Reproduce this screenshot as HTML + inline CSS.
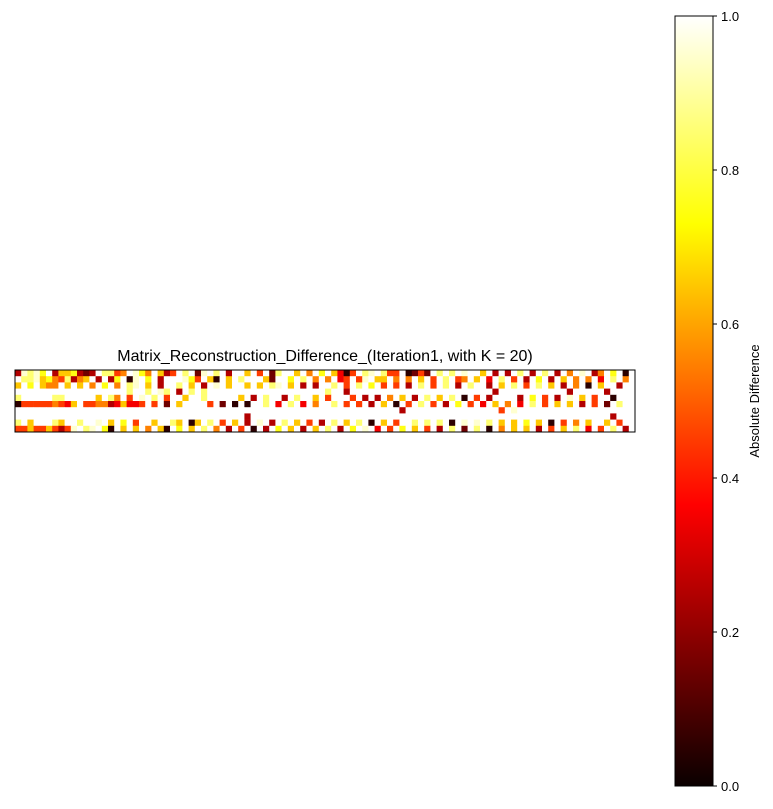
<!DOCTYPE html>
<html><head><meta charset="utf-8"><style>
body{margin:0;background:#fff;}
svg text{font-family:"Liberation Sans",sans-serif;fill:#000;}
</style></head><body>
<svg id="c" width="773" height="804" xmlns="http://www.w3.org/2000/svg">
<defs><linearGradient id="hot" x1="0" y1="1" x2="0" y2="0">
<stop offset="0" stop-color="#0a0000"/><stop offset="0.365" stop-color="#ff0000"/><stop offset="0.73" stop-color="#ffff00"/><stop offset="1" stop-color="#ffffff"/>
</linearGradient></defs>
<text x="325" y="361" font-size="16" text-anchor="middle">Matrix_Reconstruction_Difference_(Iteration1, with K = 20)</text>
<g id="cells"></g>
<rect x="15" y="370" width="620" height="62" fill="none" stroke="#000" stroke-width="1"/>
<rect x="675" y="16" width="38" height="770" fill="url(#hot)" stroke="#000" stroke-width="1"/>
<g id="cb"></g>
<text transform="translate(759,401) rotate(-90)" font-size="13" text-anchor="middle">Absolute Difference</text>
</svg>
<script>
// rows: '0'-'9' = value/10, '.' = 1.0
const rows = [
"29897.2667212.8845.975.624.8.19.8.2..6.4.18..6.5.7.6304.89.844.0141.8.8.9..6.2.2.8.2.8.2.5.9.25.7.0",
".88967548256.2.27.09.7.2...974.60.6.8...61..7.8.5.5.34.49.66.5.5.6.4.8.45.6.3.8.4.2.7.2.6.5.5.3.8.5",
"6.7.655.6.6.5.7.5.89.6.2..8.6.2.9.6..6.6.89.6.2.2..8.4.8.7.4.4.2.8.4.8.2.8..2.6.8.4.8.6.2.5.0.6..2",
"..................8..8.98.2.8.8...................8..2.......................2...........2.....2..",
"8.....88.....6.85.4.9.8.4..6..8.....6.2.8..2.8..6.4...4.2.2.5.6.2.8.6.8.0.4.2....2.7.4.2.9.6.4..0.",
"0444445436.4455236334.4.1.6....4.1.0.0..8.3.8.3.5..8.4.4.2.6.0.4.8.4.2.7.4.3.6.5.3.8.4.6.6.2.4.1.8",
"..............................................................2...............4.9................",
".....................................2..........................................................2.",
"8.6...86..8..9.6.7.4..6..86.06.8.4.6.2.9.2.8.6.4.2.8.6.8.0.6.4..8.8.8.0.9.9.8.6.6.7.6.0.4.5.6..6.4",
"4464464249.89.70.6.6.5.60.7.6.8.5.2.4.0.2.7.6.2.6.8.2.7.9.3.4.7.6.4.2.8.1.8.0.5.6.6.2.4.6.8.3.4.8.2"
];
const cbTicks = [0.0,0.2,0.4,0.6,0.8,1.0];
const X0=15,Y0=370,W=620,H=62,NC=100,NR=rows.length;
const cw=W/NC,ch=H/NR;
function hot(v){const r=Math.min(1,Math.max(0,v/0.365)),g=Math.min(1,Math.max(0,(v-0.365)/0.365)),b=Math.min(1,Math.max(0,(v-0.73)/0.27));
return `rgb(${Math.round(10+245*r)},${Math.round(255*g)},${Math.round(255*b)})`;}
const ns="http://www.w3.org/2000/svg",g=document.getElementById('cells');
rows.forEach((s,ri)=>{for(let ci=0;ci<NC;ci++){const c=s[ci]||'.';const v=c==='.'?1:(+c)/10+0.05;
const r=document.createElementNS(ns,'rect');
r.setAttribute('x',X0+ci*cw);r.setAttribute('y',Y0+ri*ch);r.setAttribute('width',cw+0.3);r.setAttribute('height',ch+0.3);r.setAttribute('fill',hot(v));


g.appendChild(r);}});
const cb=document.getElementById('cb');
cbTicks.forEach(t=>{const y=786-t*770;
const l=document.createElementNS(ns,'line');l.setAttribute('x1',713);l.setAttribute('x2',717);l.setAttribute('y1',y);l.setAttribute('y2',y);l.setAttribute('stroke','#000');


cb.appendChild(l);
const tx=document.createElementNS(ns,'text');tx.setAttribute('x',721);tx.setAttribute('y',y+5);tx.setAttribute('font-size','13');tx.textContent=t.toFixed(1);


cb.appendChild(tx);});
</script>
</body></html>
